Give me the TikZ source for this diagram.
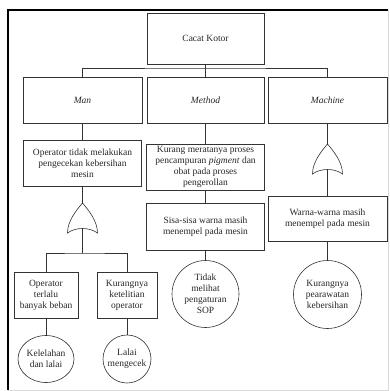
\documentclass[tikz,border=0pt]{standalone}
\usepackage{fontspec}
\setmainfont{Liberation Serif}
\usetikzlibrary{shapes.geometric}

\tikzset{
  box/.style={draw=black!80, line width=0.6pt, align=center, inner sep=1pt,
    text=black!85, font=\fontsize{9.5}{11}\selectfont},
  bevent/.style={box, circle, inner sep=0pt},
  link/.style={draw=black!80, line width=0.6pt},
  orgate/.pic={
    \draw[link] (-15,15) .. controls (-15,3) and (-6,-8) .. (0,-15)
      .. controls (6,-8) and (15,3) .. (15,15)
      .. controls (7,9) and (-7,9) .. (-15,15) -- cycle;
    \coordinate (-out) at (0,-15);
    \coordinate (-in) at (0,10.5);
  }
}

\begin{document}
\begin{tikzpicture}[x=1pt, y=-1pt]
\useasboundingbox (0,0) rectangle (389,391);
% frame
\draw[line width=1.6pt] (8,390) -- (8,10) -- (388,10);
\draw[black!15] (388,10) -- (388,390) -- (8,390);

% top event and categories
\node[box, minimum width=117, minimum height=51] (top) at (205.5,38.5) {Cacat Kotor};
\node[box, minimum width=119, minimum height=46] (man) at (82.5,100) {\textit{Man}};
\node[box, minimum width=117, minimum height=46] (method) at (205.5,100) {\textit{Method}};
\node[box, minimum width=119, minimum height=46] (machine) at (327.5,100) {\textit{Machine}};
\coordinate (bus) at (205.5,68);
\draw[link] (man.north) |- (bus) -| (machine.north);
\draw[link] (top.south) -- (method.north);

% man
\node[box, minimum width=118, minimum height=46] (opcek) at (82.5,163) {Operator tidak melakukan\\pengecekan kebersihan\\mesin};
\pic (g1) at (82.5,218) {orgate};
\node[box, minimum width=64, minimum height=46] (beban) at (46,295) {Operator\\terlalu\\banyak beban};
\node[box, minimum width=60, minimum height=46] (teliti) at (127,295) {Kurangnya\\ketelitian\\operator};
\node[box, ellipse, inner sep=0pt, minimum width=56, minimum height=47] (lelah) at (46,359) {Kelelahan\\dan lalai};
\node[bevent, minimum size=48] (lalai) at (127,359) {Lalai\\mengecek};
\coordinate (split) at (82.5,253);
\draw[link] (man.south) -- (opcek.north);
\draw[link] (opcek.south) -- (g1-out);
\draw[link] (g1-in) -- (split);
\draw[link] (beban.north) |- (split) -| (teliti.north);
\draw[link] (beban.south) -- (lelah.north);
\draw[link] (teliti.south) -- (lalai.north);

% method
\node[box, minimum width=118, minimum height=46] (rata) at (205.5,167) {Kurang meratanya proses\\pencampuran \textit{pigment} dan\\obat pada proses\\pengerollan};
\node[box, minimum width=118, minimum height=47] (sisa) at (205.5,227) {Sisa-sisa warna masih\\menempel pada mesin};
\node[bevent, minimum size=67] (sop) at (205.5,294) {Tidak\\melihat\\pengaturan\\SOP};
\draw[link] (method.south) -- (rata.north);
\draw[link] (rata.south) -- (sisa.north);
\draw[link] (sisa.south) -- (sop.north);

% machine
\pic (g2) at (327.5,159) {orgate};
\node[box, minimum width=119, minimum height=45] (warna) at (327.5,219) {Warna-warna masih\\menempel pada mesin};
\node[bevent, minimum size=68] (rawat) at (327.5,294.5) {Kurangnya\\pearawatan\\kebersihan};
\draw[link] (machine.south) -- (g2-out);
\draw[link] (g2-in) -- (warna.north);
\draw[link] (warna.south) -- (rawat.north);
\end{tikzpicture}
\end{document}
